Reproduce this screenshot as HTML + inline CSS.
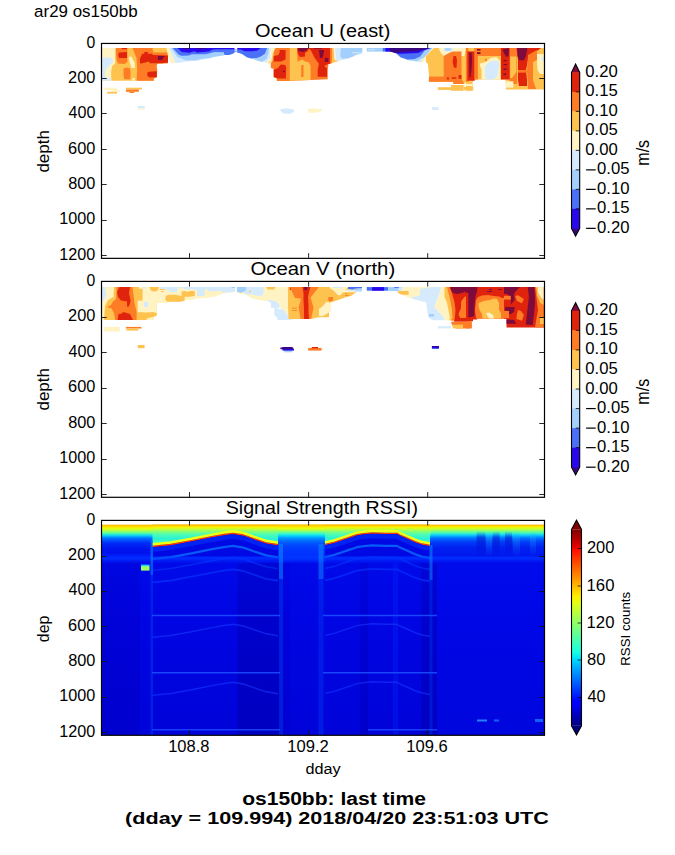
<!DOCTYPE html>
<html><head><meta charset="utf-8"><style>
html,body{margin:0;padding:0;background:#fff;overflow:hidden;}
svg{display:block;}
text{font-family:"Liberation Sans", sans-serif;fill:#000;}
</style></head><body>
<svg width="675" height="855" viewBox="0 0 675 855">
<rect x="0" y="0" width="675" height="855" fill="#fff"/>
<defs><linearGradient id="rtop" gradientUnits="userSpaceOnUse" x1="0" y1="524.6" x2="0" y2="563"><stop offset="0.0000" stop-color="#ffbc00"/><stop offset="0.0495" stop-color="#ffd800"/><stop offset="0.0885" stop-color="#f4f800"/><stop offset="0.1406" stop-color="#c0ff38"/><stop offset="0.1927" stop-color="#84ff74"/><stop offset="0.2448" stop-color="#34f4c4"/><stop offset="0.2969" stop-color="#08c4ff"/><stop offset="0.3359" stop-color="#0084ff"/><stop offset="0.4010" stop-color="#0054ff"/><stop offset="0.4792" stop-color="#002cf8"/><stop offset="0.6094" stop-color="#0016f0"/><stop offset="0.7396" stop-color="#0010ec"/><stop offset="0.8177" stop-color="#0020ff"/><stop offset="0.8698" stop-color="#0030ff"/><stop offset="0.9349" stop-color="#001af4"/><stop offset="1.0000" stop-color="#0010ea"/></linearGradient><linearGradient id="rtopE" gradientUnits="userSpaceOnUse" x1="0" y1="524.6" x2="0" y2="563"><stop offset="0.0000" stop-color="#ffac00"/><stop offset="0.0312" stop-color="#ffd000"/><stop offset="0.0677" stop-color="#f0f800"/><stop offset="0.1146" stop-color="#c4ff34"/><stop offset="0.1667" stop-color="#84ff74"/><stop offset="0.2187" stop-color="#44f8bc"/><stop offset="0.2708" stop-color="#10d0f8"/><stop offset="0.3229" stop-color="#0090ff"/><stop offset="0.3750" stop-color="#0064ff"/><stop offset="0.4531" stop-color="#003cf8"/><stop offset="0.6094" stop-color="#0020f0"/><stop offset="0.8177" stop-color="#0018ee"/><stop offset="0.8698" stop-color="#0034ff"/><stop offset="0.9349" stop-color="#0018f4"/><stop offset="1.0000" stop-color="#0010ea"/></linearGradient><linearGradient id="rtopC" gradientUnits="userSpaceOnUse" x1="0" y1="524.6" x2="0" y2="563"><stop offset="0.0000" stop-color="#ffbc00"/><stop offset="0.0495" stop-color="#ffe000"/><stop offset="0.1016" stop-color="#e8ff10"/><stop offset="0.1536" stop-color="#a8ff50"/><stop offset="0.2057" stop-color="#60ffa0"/><stop offset="0.2578" stop-color="#20f0e0"/><stop offset="0.3099" stop-color="#00c0ff"/><stop offset="0.3620" stop-color="#0090ff"/><stop offset="0.4271" stop-color="#0068ff"/><stop offset="0.5312" stop-color="#0048ff"/><stop offset="0.6615" stop-color="#0038ff"/><stop offset="0.7917" stop-color="#0030ff"/><stop offset="0.8698" stop-color="#0040ff"/><stop offset="0.9479" stop-color="#0020f8"/><stop offset="1.0000" stop-color="#0010ea"/></linearGradient><linearGradient id="rarc" gradientUnits="userSpaceOnUse" x1="0" y1="524.6" x2="0" y2="548"><stop offset="0.0000" stop-color="#ffb400"/><stop offset="0.0598" stop-color="#ffd400"/><stop offset="0.1239" stop-color="#f0f808"/><stop offset="0.2094" stop-color="#bcff40"/><stop offset="0.3162" stop-color="#7cff80"/><stop offset="0.4444" stop-color="#44fcbc"/><stop offset="0.6154" stop-color="#2cf0d4"/><stop offset="0.7436" stop-color="#44fcb4"/><stop offset="1.0000" stop-color="#60ff90"/></linearGradient><linearGradient id="rdeep" gradientUnits="userSpaceOnUse" x1="0" y1="560" x2="0" y2="735"><stop offset="0" stop-color="#0018ff" stop-opacity="0.3"/><stop offset="0.35" stop-color="#0010ff" stop-opacity="0.1"/><stop offset="1" stop-color="#000080" stop-opacity="0.06"/></linearGradient></defs>
<rect x="101.5" y="526.6" width="443.0" height="208.4" fill="#0004e0"/>
<rect x="101.5" y="526.6" width="39.1" height="208.4" fill="#0000d4"/>
<rect x="140.0" y="526.6" width="12.6" height="208.4" fill="#0004e0"/>
<rect x="152.0" y="526.6" width="86.1" height="208.4" fill="#0004e0"/>
<rect x="237.5" y="526.6" width="43.6" height="208.4" fill="#0000c6"/>
<rect x="280.5" y="526.6" width="10.1" height="208.4" fill="#0000d8"/>
<rect x="290.0" y="526.6" width="70.6" height="208.4" fill="#0004e0"/>
<rect x="360.0" y="526.6" width="8.6" height="208.4" fill="#0000d0"/>
<rect x="368.0" y="526.6" width="25.6" height="208.4" fill="#0004e0"/>
<rect x="393.0" y="526.6" width="5.6" height="208.4" fill="#0010ec"/>
<rect x="398.0" y="526.6" width="23.6" height="208.4" fill="#0004e0"/>
<rect x="421.0" y="526.6" width="16.6" height="208.4" fill="#0000c8"/>
<rect x="437.0" y="526.6" width="107.5" height="208.4" fill="#0006e4"/>
<rect x="101.5" y="560.0" width="443.0" height="175.0" fill="url(#rdeep)"/>
<rect x="101.5" y="524.6" width="329.5" height="38.4" fill="url(#rtop)"/>
<rect x="278.0" y="524.6" width="48.0" height="38.4" fill="url(#rtopC)"/>
<rect x="431.0" y="524.6" width="113.5" height="38.4" fill="url(#rtopE)"/>
<defs><linearGradient id="colD" gradientUnits="userSpaceOnUse" x1="0" y1="531" x2="0" y2="557"><stop offset="0" stop-color="#0000c0" stop-opacity="0"/><stop offset="0.25" stop-color="#0000c0" stop-opacity="0.45"/><stop offset="1" stop-color="#0000c0" stop-opacity="0"/></linearGradient><linearGradient id="colL" gradientUnits="userSpaceOnUse" x1="0" y1="531" x2="0" y2="557"><stop offset="0" stop-color="#20b0ff" stop-opacity="0"/><stop offset="0.25" stop-color="#20b0ff" stop-opacity="0.3"/><stop offset="1" stop-color="#20b0ff" stop-opacity="0"/></linearGradient></defs>
<rect x="476.6" y="531.0" width="8.8" height="26.0" fill="url(#colD)"/>
<rect x="492.6" y="531.0" width="7.1" height="26.0" fill="url(#colD)"/>
<rect x="505.0" y="531.0" width="7.0" height="26.0" fill="url(#colD)"/>
<rect x="486.0" y="531.0" width="6.0" height="26.0" fill="url(#colL)"/>
<rect x="513.0" y="531.0" width="7.0" height="26.0" fill="url(#colL)"/>
<rect x="530.0" y="531.0" width="6.0" height="26.0" fill="url(#colL)"/>
<polygon points="152.5,546.3 156.0,546.0 170.7,544.5 191.5,540.7 212.0,536.6 224.0,534.5 233.0,533.3 243.4,535.0 253.7,538.7 266.2,542.8 276.6,544.5 278.0,544.7 278.0,556.5 152.5,556.5" fill="#0008e4"/>
<polygon points="152.5,524.6 152.5,546.3 156.0,546.0 170.7,544.5 191.5,540.7 212.0,536.6 224.0,534.5 233.0,533.3 243.4,535.0 253.7,538.7 266.2,542.8 276.6,544.5 278.0,544.7 278.0,524.6" fill="url(#rarc)"/>
<polyline points="152.5,544.3 156.0,544.0 170.7,542.5 191.5,538.7 212.0,534.6 224.0,532.5 233.0,531.3 243.4,533.0 253.7,536.7 266.2,540.8 276.6,542.5 278.0,542.7" fill="none" stroke="#f4ff10" stroke-width="2.4" stroke-linejoin="round"/>
<polyline points="152.5,546.3 156.0,546.0 170.7,544.5 191.5,540.7 212.0,536.6 224.0,534.5 233.0,533.3 243.4,535.0 253.7,538.7 266.2,542.8 276.6,544.5 278.0,544.7" fill="none" stroke="#ff3800" stroke-width="1.3" stroke-linejoin="round"/>
<polyline points="152.5,549.5 156.0,549.2 170.7,547.7 191.5,543.9 212.0,539.8 224.0,537.7 233.0,536.5 243.4,538.2 253.7,541.9 266.2,546.0 276.6,547.7 278.0,547.9" fill="none" stroke="#0038ff" stroke-width="4.5" stroke-opacity="0.55" stroke-linejoin="round"/>
<polyline points="152.5,558.9 156.0,558.6 170.7,557.1 191.5,553.3 212.0,549.2 224.0,547.1 233.0,545.9 243.4,547.6 253.7,551.3 266.2,555.4 276.6,557.1 278.0,557.3" fill="none" stroke="#0a80ff" stroke-width="2.2" stroke-opacity="0.7" stroke-linejoin="round"/>
<polyline points="152.5,570.3 156.0,570.0 170.7,568.5 191.5,564.7 212.0,560.6 224.0,558.5 233.0,557.3 243.4,559.0 253.7,562.7 266.2,566.8 276.6,568.5 278.0,568.7" fill="none" stroke="#0848ff" stroke-width="1.6" stroke-opacity="0.45" stroke-linejoin="round"/>
<polyline points="152.5,582.3 156.0,582.0 170.7,580.5 191.5,576.7 212.0,572.6 224.0,570.5 233.0,569.3 243.4,571.0 253.7,574.7 266.2,578.8 276.6,580.5 278.0,580.7" fill="none" stroke="#0838ff" stroke-width="1.8" stroke-opacity="0.6" stroke-linejoin="round"/>
<polyline points="152.5,637.3 156.0,637.0 170.7,635.5 191.5,631.7 212.0,627.6 224.0,625.5 233.0,624.3 243.4,626.0 253.7,629.7 266.2,633.8 276.6,635.5 278.0,635.7" fill="none" stroke="#1838ff" stroke-width="1.4" stroke-opacity="0.6" stroke-linejoin="round"/>
<polyline points="152.5,695.3 156.0,695.0 170.7,693.5 191.5,689.7 212.0,685.6 224.0,683.5 233.0,682.3 243.4,684.0 253.7,687.7 266.2,691.8 276.6,693.5 278.0,693.7" fill="none" stroke="#1838ff" stroke-width="1.4" stroke-opacity="0.6" stroke-linejoin="round"/>
<polyline points="152.0,615.5 280.0,615.5" fill="none" stroke="#1c4cff" stroke-width="1.5" stroke-opacity="0.9"/>
<polyline points="152.0,672.8 280.0,672.8" fill="none" stroke="#1c4cff" stroke-width="1.5" stroke-opacity="0.9"/>
<polyline points="152.0,729.7 280.0,729.7" fill="none" stroke="#1c4cff" stroke-width="1.5" stroke-opacity="0.8"/>
<polygon points="325.0,544.4 334.0,542.4 349.0,537.3 357.0,534.6 364.0,533.6 372.0,532.8 386.0,533.3 397.0,533.3 400.0,535.0 407.0,538.0 415.0,541.7 422.0,544.0 430.0,545.4 430.0,556.5 325.0,556.5" fill="#0008e4"/>
<polygon points="325.0,524.6 325.0,544.4 334.0,542.4 349.0,537.3 357.0,534.6 364.0,533.6 372.0,532.8 386.0,533.3 397.0,533.3 400.0,535.0 407.0,538.0 415.0,541.7 422.0,544.0 430.0,545.4 430.0,524.6" fill="url(#rarc)"/>
<polyline points="325.0,542.4 334.0,540.4 349.0,535.3 357.0,532.6 364.0,531.6 372.0,530.8 386.0,531.3 397.0,531.3 400.0,533.0 407.0,536.0 415.0,539.7 422.0,542.0 430.0,543.4" fill="none" stroke="#f4ff10" stroke-width="2.4" stroke-linejoin="round"/>
<polyline points="325.0,544.4 334.0,542.4 349.0,537.3 357.0,534.6 364.0,533.6 372.0,532.8 386.0,533.3 397.0,533.3 400.0,535.0 407.0,538.0 415.0,541.7 422.0,544.0 430.0,545.4" fill="none" stroke="#ff3800" stroke-width="1.3" stroke-linejoin="round"/>
<polyline points="325.0,547.6 334.0,545.6 349.0,540.5 357.0,537.8 364.0,536.8 372.0,536.0 386.0,536.5 397.0,536.5 400.0,538.2 407.0,541.2 415.0,544.9 422.0,547.2 430.0,548.6" fill="none" stroke="#0038ff" stroke-width="4.5" stroke-opacity="0.55" stroke-linejoin="round"/>
<polyline points="325.0,557.0 334.0,555.0 349.0,549.9 357.0,547.2 364.0,546.2 372.0,545.4 386.0,545.9 397.0,545.9 400.0,547.6 407.0,550.6 415.0,554.3 422.0,556.6 430.0,558.0" fill="none" stroke="#0a80ff" stroke-width="2.2" stroke-opacity="0.7" stroke-linejoin="round"/>
<polyline points="325.0,568.4 334.0,566.4 349.0,561.3 357.0,558.6 364.0,557.6 372.0,556.8 386.0,557.3 397.0,557.3 400.0,559.0 407.0,562.0 415.0,565.7 422.0,568.0 430.0,569.4" fill="none" stroke="#0848ff" stroke-width="1.6" stroke-opacity="0.45" stroke-linejoin="round"/>
<polyline points="325.0,580.4 334.0,578.4 349.0,573.3 357.0,570.6 364.0,569.6 372.0,568.8 386.0,569.3 397.0,569.3 400.0,571.0 407.0,574.0 415.0,577.7 422.0,580.0 430.0,581.4" fill="none" stroke="#0838ff" stroke-width="1.8" stroke-opacity="0.6" stroke-linejoin="round"/>
<polyline points="325.0,635.4 334.0,633.4 349.0,628.3 357.0,625.6 364.0,624.6 372.0,623.8 386.0,624.3 397.0,624.3 400.0,626.0 407.0,629.0 415.0,632.7 422.0,635.0 430.0,636.4" fill="none" stroke="#1838ff" stroke-width="1.4" stroke-opacity="0.6" stroke-linejoin="round"/>
<polyline points="325.0,693.4 334.0,691.4 349.0,686.3 357.0,683.6 364.0,682.6 372.0,681.8 386.0,682.3 397.0,682.3 400.0,684.0 407.0,687.0 415.0,690.7 422.0,693.0 430.0,694.4" fill="none" stroke="#1838ff" stroke-width="1.4" stroke-opacity="0.6" stroke-linejoin="round"/>
<polyline points="323.0,615.5 437.0,615.5" fill="none" stroke="#1c4cff" stroke-width="1.5" stroke-opacity="0.9"/>
<polyline points="323.0,672.8 437.0,672.8" fill="none" stroke="#1c4cff" stroke-width="1.5" stroke-opacity="0.9"/>
<polyline points="368.0,729.7 437.0,729.7" fill="none" stroke="#1c4cff" stroke-width="1.5" stroke-opacity="0.8"/>
<rect x="101.5" y="556.5" width="443.0" height="4.0" fill="#0028ff" fill-opacity="0.4"/>
<rect x="279.0" y="544.0" width="4.0" height="191.0" fill="#0060ff" fill-opacity="0.3"/>
<rect x="279.0" y="544.0" width="4.0" height="35.0" fill="#10a8ff" fill-opacity="0.35"/>
<rect x="150.5" y="540.0" width="2.5" height="195.0" fill="#0060ff" fill-opacity="0.3"/>
<rect x="150.5" y="540.0" width="2.5" height="35.0" fill="#10a8ff" fill-opacity="0.35"/>
<rect x="318.5" y="544.0" width="5.0" height="191.0" fill="#0060ff" fill-opacity="0.25"/>
<rect x="318.5" y="544.0" width="5.0" height="35.0" fill="#10a8ff" fill-opacity="0.35"/>
<rect x="429.5" y="545.0" width="3.0" height="190.0" fill="#0060ff" fill-opacity="0.25"/>
<rect x="429.5" y="545.0" width="3.0" height="35.0" fill="#10a8ff" fill-opacity="0.35"/>
<rect x="141.0" y="566.0" width="8.5" height="4.6" fill="#a0ff60"/>
<rect x="141.0" y="564.6" width="8.5" height="1.6" fill="#20d0f0"/>
<rect x="477.0" y="719.5" width="10.0" height="2.0" fill="#2080ff"/>
<rect x="494.0" y="719.5" width="5.0" height="2.0" fill="#1060ff"/>
<rect x="535.0" y="719.0" width="8.0" height="3.0" fill="#1060ff"/>
<polygon points="101.5,48.0 168.0,48.0 168.0,63.3 157.4,63.5 156.5,66.0 157.2,70.0 156.8,77.5 153.8,78.5 153.8,80.7 101.5,80.7" fill="#fec24f"/>
<polygon points="101.5,48.0 115.2,48.0 115.2,63.2 112.2,66.1 111.1,72.0 111.4,80.7 101.5,80.7" fill="#fff3c4"/>
<polygon points="101.5,57.9 108.7,57.3 112.6,59.0 112.9,62.6 109.9,65.0 106.9,67.9 105.1,70.9 105.1,76.2 106.9,78.0 111.1,78.3 111.1,80.7 101.5,80.7" fill="#d5ebfd"/>
<polygon points="116.0,48.0 127.4,48.0 127.4,62.0 124.5,64.0 118.0,63.5 116.5,60.0 116.0,52.0" fill="#fd7c25"/>
<polygon points="118.8,52.5 127.0,52.0 127.0,57.9 119.0,57.9 118.2,55.8" fill="#e0230d"/>
<polygon points="121.7,48.0 127.0,48.0 127.0,49.2 121.7,49.2" fill="#e0230d"/>
<polygon points="128.9,56.7 131.6,56.7 134.8,63.0 134.8,67.9 131.5,67.9 129.5,62.0" fill="#fff3c4"/>
<polygon points="123.5,68.5 126.5,67.5 129.5,68.0 130.6,72.0 130.3,79.2 124.2,79.2 123.5,74.0" fill="#fd7c25"/>
<polygon points="132.4,48.0 168.0,48.0 168.0,63.3 157.4,63.5 156.5,66.0 157.2,70.0 156.8,77.5 153.8,78.5 153.8,80.7 136.6,80.7 137.1,69.7 136.6,57.9" fill="#fd7c25"/>
<polygon points="152.6,48.0 168.0,48.0 169.0,52.5 153.5,52.5 152.6,50.0" fill="#fec24f"/>
<polygon points="142.3,53.7 144.3,53.7 144.3,51.9 147.9,51.9 147.9,53.7 152.0,53.7 153.0,55.0 168.0,55.5 168.0,62.5 162.0,63.2 150.0,63.2 149.0,61.5 140.2,63.8 139.8,59.6 140.2,58.0" fill="#e0230d"/>
<polygon points="158.0,56.0 165.0,56.0 163.0,58.0 162.0,59.9 158.0,59.9" fill="#7d0b3c"/>
<polygon points="148.0,72.0 152.0,71.5 156.8,71.2 156.8,77.0 150.0,77.4 147.3,76.0 147.3,73.0" fill="#e0230d"/>
<polygon points="132.4,78.0 134.8,78.0 134.8,80.7 132.4,80.7" fill="#fff3c4"/>
<polygon points="166.5,48.0 169.5,48.0 176.0,62.8 171.0,63.2 168.0,56.0" fill="#fff3c4"/>
<polygon points="169.2,48.0 270.8,48.0 270.2,57.9 266.6,62.6 262.0,62.0 257.1,60.5 253.0,59.0 247.0,57.3 241.7,53.7 237.5,52.5 234.6,52.5 232.8,53.7 228.6,54.9 224.5,54.9 221.5,55.8 215.0,57.0 213.1,57.6 209.0,58.7 200.7,59.9 196.6,60.8 185.9,61.4 181.7,62.6 177.0,62.9 175.7,62.8" fill="#d5ebfd"/>
<polygon points="171.0,48.0 269.0,48.0 268.4,53.7 266.6,59.0 261.9,61.7 257.1,60.5 253.0,59.0 247.0,57.3 241.7,53.7 237.5,52.5 234.6,52.5 232.8,53.7 228.6,54.9 224.5,54.9 221.5,55.8 215.0,56.5 213.1,57.0 209.0,58.1 200.7,59.0 196.6,60.2 185.9,60.5 182.9,59.3 180.0,57.9 177.5,57.0" fill="#a2cffc"/>
<polygon points="172.8,48.0 266.9,48.0 266.6,49.6 264.9,53.7 260.7,56.4 256.6,57.9 253.0,57.9 251.7,58.4 247.0,57.3 241.7,53.7 237.5,52.5 234.6,52.5 232.8,53.7 228.6,54.9 224.5,54.9 223.9,52.2 215.0,51.9 212.6,52.5 209.0,53.4 204.9,54.3 191.8,54.3 188.9,55.5 181.1,55.8 178.2,54.3" fill="#4a70f7"/>
<polygon points="177.6,48.0 234.6,48.0 234.6,49.3 217.0,49.3 212.6,49.6 209.0,51.6 197.1,52.5 194.2,51.3 189.4,52.8 181.7,51.9" fill="#2a08ec"/>
<polygon points="237.2,48.0 260.7,48.0 257.0,50.7 253.0,51.2 244.6,51.3 241.0,49.5 237.2,49.5" fill="#2a08ec"/>
<polygon points="182.3,48.0 189.4,48.0 189.4,48.8 182.3,48.8" fill="#3a0782"/>
<polygon points="196.0,48.0 206.0,48.0 206.0,48.8 196.0,48.8" fill="#3a0782"/>
<polygon points="234.6,48.0 237.2,48.0 237.2,53.2 234.6,53.2" fill="#ffffff"/>
<polygon points="234.2,49.6 237.6,49.6 237.6,50.3 234.2,50.3" fill="#4a70f7"/>
<polygon points="234.2,51.4 237.6,51.4 237.6,52.1 234.2,52.1" fill="#4a70f7"/>
<polygon points="270.8,48.0 275.5,48.0 273.5,53.7 272.0,61.0 269.6,63.2 266.6,62.6 270.2,57.9" fill="#fff3c4"/>
<polygon points="274.9,48.0 277.3,48.0 273.7,51.9 273.1,59.6 269.6,63.2 267.5,63.2 271.4,60.8 272.6,53.7" fill="#fec24f"/>
<polygon points="276.0,48.0 331.0,48.0 331.0,63.8 328.5,64.0 327.7,70.0 327.7,79.2 310.6,80.1 297.0,80.6 291.0,81.0 276.7,81.0 276.7,78.3 273.7,77.4 273.7,69.1 270.8,67.9 270.8,63.2 273.1,59.6 273.7,51.9" fill="#fd7c25"/>
<polygon points="279.7,49.9 285.6,49.9 285.6,59.6 280.9,61.4 273.7,61.4 273.7,56.1 278.5,54.9 279.7,51.9" fill="#e0230d"/>
<polygon points="280.9,64.4 285.0,65.0 286.2,67.3 285.9,78.6 277.9,78.6 273.7,76.8 273.7,69.7 277.9,67.9" fill="#e0230d"/>
<polygon points="282.9,70.9 285.0,70.9 285.0,72.1 282.9,72.1" fill="#7d0b3c"/>
<polygon points="289.7,48.0 296.9,48.0 297.5,61.4 302.3,59.6 305.0,61.5 308.9,62.2 310.6,66.0 310.6,80.1 289.7,80.8" fill="#fec24f"/>
<polygon points="301.2,65.0 303.5,65.0 303.5,77.0 301.2,77.0" fill="#fd7c25"/>
<polygon points="297.5,48.0 308.5,48.0 308.0,51.0 305.0,53.0 305.0,56.5 300.0,57.0 298.5,55.0 297.5,52.0" fill="#e0230d"/>
<polygon points="297.9,48.0 308.2,48.0 306.5,50.5 303.0,51.9 299.0,51.0 297.9,50.0" fill="#7d0b3c"/>
<polygon points="308.0,48.0 330.2,48.0 330.2,63.8 328.9,63.8 324.2,66.1 327.1,68.5 327.1,76.8 317.7,76.8 317.7,69.7 318.9,63.8 314.7,57.9 311.1,50.7" fill="#e0230d"/>
<polygon points="318.9,49.9 324.2,49.9 323.5,54.0 322.5,57.9 320.0,57.9 319.5,54.0" fill="#7d0b3c"/>
<polygon points="324.8,57.9 328.3,57.9 328.3,62.0 324.8,62.0" fill="#7d0b3c"/>
<polygon points="314.0,48.0 322.0,48.0 322.0,48.7 314.0,48.7" fill="#7d0b3c"/>
<polygon points="330.2,48.0 332.6,48.0 332.6,63.0 330.2,63.6" fill="#fd7c25"/>
<polygon points="332.6,48.0 333.7,48.0 334.5,58.0 338.0,61.4 333.7,62.4 331.5,62.5 332.6,58.0" fill="#fec24f"/>
<polygon points="333.7,48.0 335.2,48.0 335.5,58.0 337.0,61.0 334.5,60.0" fill="#fff3c4"/>
<polygon points="334.9,48.0 362.2,48.0 362.2,53.5 355.7,55.5 352.7,57.0 348.0,58.8 342.0,60.0 337.9,61.2 336.0,60.0 335.5,55.0" fill="#d5ebfd"/>
<polygon points="340.9,48.0 362.2,48.0 362.2,52.9 355.7,54.7 352.7,56.4 348.0,58.2 342.0,58.8 340.3,55.9" fill="#a2cffc"/>
<polygon points="352.0,52.3 361.6,52.3 361.6,53.3 352.0,53.3" fill="#d5ebfd"/>
<polygon points="366.8,48.0 383.7,48.0 383.7,51.6 366.8,51.6" fill="#a2cffc"/>
<polygon points="368.0,49.3 375.0,49.3 375.0,50.2 368.0,50.2" fill="#d5ebfd"/>
<polygon points="385.0,48.0 434.0,48.0 426.0,56.0 422.0,62.6 416.6,61.8 407.7,60.2 400.6,57.5 391.7,51.6 385.0,51.6" fill="#d5ebfd"/>
<polygon points="430.0,48.0 434.5,48.0 427.0,57.0 423.0,62.6 420.5,62.6 425.0,55.0" fill="#fff3c4"/>
<polygon points="385.0,48.0 432.6,48.0 423.7,58.0 421.9,58.5 416.6,61.3 407.7,60.0 400.6,57.3 396.1,52.9 391.7,51.6 385.0,51.6" fill="#a2cffc"/>
<polygon points="382.8,48.0 431.5,48.0 425.0,50.2 423.7,52.0 420.1,56.4 414.8,59.1 407.7,59.6 400.6,57.3 396.1,52.9 391.7,51.6 382.8,51.6" fill="#4a70f7"/>
<polygon points="385.4,48.0 430.4,48.0 425.0,50.0 423.7,50.2 418.3,52.9 402.3,53.8 397.9,53.8 391.7,51.6 385.4,51.6" fill="#2a08ec"/>
<polygon points="389.9,48.0 428.0,48.0 425.0,49.3 418.3,51.1 402.3,52.0 395.2,52.9 389.9,51.6" fill="#3a0782"/>
<polygon points="434.0,48.0 544.0,48.0 544.0,89.5 506.0,89.5 505.5,79.6 473.3,79.6 473.3,81.9 466.0,81.9 464.4,84.0 453.3,84.0 453.3,81.8 428.9,81.8 429.0,76.0 428.0,64.0 426.0,62.0 426.0,56.0" fill="#fec24f"/>
<polygon points="439.3,48.0 466.0,48.0 464.4,55.9 444.0,55.9 441.0,53.0 439.3,50.0" fill="#fff3c4"/>
<polygon points="443.7,48.0 452.6,48.0 452.6,51.4 443.7,51.4" fill="#d5ebfd"/>
<polygon points="444.8,48.3 451.0,48.3 450.5,50.5 445.5,50.5" fill="#a2cffc"/>
<polygon points="443.7,56.0 449.0,53.0 452.6,51.4 461.5,51.4 461.5,78.8 464.4,84.0 453.3,84.0 453.3,81.8 444.0,80.0 443.7,70.0" fill="#fd7c25"/>
<polygon points="428.9,76.6 453.3,76.6 453.3,81.8 428.9,81.8" fill="#fd7c25"/>
<polygon points="453.5,56.0 456.0,56.0 457.0,60.0 456.5,67.7 454.0,67.7 452.6,62.0" fill="#e0230d"/>
<polygon points="446.7,77.5 449.0,77.5 449.0,79.5 446.7,79.5" fill="#e0230d"/>
<polygon points="451.8,77.3 456.3,77.3 456.3,78.8 451.8,78.8" fill="#e0230d"/>
<polygon points="458.5,75.1 461.5,75.1 461.5,78.8 458.5,78.8" fill="#e0230d"/>
<polygon points="465.9,48.0 468.4,48.0 468.4,81.9 465.9,81.9" fill="#fd7c25"/>
<polygon points="467.4,51.4 474.9,51.4 474.9,80.7 467.4,80.7" fill="#e0230d"/>
<polygon points="469.2,52.5 471.5,52.5 472.0,60.0 471.5,70.0 470.5,77.0 469.5,77.0" fill="#7d0b3c"/>
<polygon points="474.3,48.0 501.6,48.0 501.6,55.9 477.9,55.9 477.9,79.6 474.3,79.6" fill="#fd7c25"/>
<polygon points="477.0,49.0 480.5,49.0 480.5,50.5 477.0,50.5" fill="#7d0b3c"/>
<polygon points="477.0,52.2 480.5,52.2 480.5,54.0 477.0,54.0" fill="#7d0b3c"/>
<polygon points="480.0,63.5 486.0,62.0 490.5,58.0 496.5,57.0 500.0,61.0 500.4,79.6 481.5,79.6 481.5,70.0 480.0,66.0" fill="#fff3c4"/>
<polygon points="485.0,66.0 490.0,61.5 497.5,60.6 499.5,64.0 498.5,69.0 497.5,76.0 494.0,79.6 485.5,79.6 485.0,72.0" fill="#d5ebfd"/>
<polygon points="484.8,58.8 487.0,58.8 487.0,60.5 484.8,60.5" fill="#fd7c25"/>
<polygon points="501.0,48.0 510.2,48.0 510.2,79.5 501.0,79.6" fill="#e0230d"/>
<polygon points="502.5,49.5 509.0,48.0 508.5,56.5 506.0,56.5 504.0,53.0" fill="#7d0b3c"/>
<polygon points="503.5,60.0 506.5,60.0 506.5,61.2 503.5,61.2" fill="#7d0b3c"/>
<polygon points="503.5,64.0 507.0,64.0 507.0,65.2 503.5,65.2" fill="#7d0b3c"/>
<polygon points="503.5,68.5 506.5,68.5 506.5,70.0 503.5,70.0" fill="#7d0b3c"/>
<polygon points="503.5,73.5 506.0,73.5 506.0,75.0 503.5,75.0" fill="#7d0b3c"/>
<polygon points="509.6,48.0 517.1,48.0 517.1,84.0 509.6,84.0" fill="#fd7c25"/>
<polygon points="510.2,56.4 516.4,56.4 516.4,72.0 512.0,78.0 510.2,78.0" fill="#fec24f"/>
<polygon points="516.5,48.0 528.0,48.0 528.0,60.0 526.0,70.0 527.0,80.0 527.0,86.0 519.0,86.0 518.0,80.0 518.0,60.0" fill="#e0230d"/>
<polygon points="518.0,70.0 527.0,70.0 527.0,72.6 518.0,72.6" fill="#fd7c25"/>
<polygon points="517.1,48.0 527.6,48.0 526.0,56.0 524.0,60.2 519.0,60.2 517.5,56.0" fill="#7d0b3c"/>
<polygon points="527.6,48.0 541.0,48.0 528.0,58.0" fill="#e0230d"/>
<polygon points="528.0,55.0 537.0,50.0 537.0,60.0 533.0,62.0 533.0,80.0 536.0,89.0 528.0,89.0 527.0,70.0" fill="#fd7c25"/>
<polygon points="537.0,54.0 543.8,54.0 543.8,73.9 540.0,73.9 537.5,70.0 537.0,60.0" fill="#fff3c4"/>
<polygon points="541.5,57.0 543.8,57.0 543.8,60.8 541.5,60.8" fill="#d5ebfd"/>
<polygon points="506.0,81.3 513.3,81.3 513.3,87.6 506.0,87.6" fill="#fff3c4"/>
<polygon points="437.8,87.2 452.0,87.2 452.0,89.9 437.8,89.9" fill="#fec24f"/>
<polygon points="451.0,85.0 463.6,85.0 463.6,90.8 451.0,90.8" fill="#fec24f"/>
<polygon points="463.6,86.8 473.3,86.8 473.3,90.3 463.6,90.3" fill="#fec24f"/>
<polygon points="464.0,85.0 472.5,85.0 472.5,87.0 464.0,87.0" fill="#fff3c4"/>
<polygon points="466.0,81.9 472.5,81.9 472.5,90.8 466.0,90.8" fill="#fec24f"/>
<polygon points="466.0,84.0 472.0,84.0 472.0,86.0 466.0,86.0" fill="#fff3c4"/>
<polygon points="104.0,87.7 117.0,87.7 117.0,90.1 104.0,90.1" fill="#fff3c4"/>
<polygon points="111.7,90.1 120.0,90.1 120.0,91.8 111.7,91.8" fill="#fff3c4"/>
<polygon points="107.0,91.8 117.0,91.8 117.0,93.6 107.0,93.6" fill="#fec24f"/>
<polygon points="125.9,87.7 141.9,87.7 141.9,89.5 125.9,89.5" fill="#fec24f"/>
<polygon points="125.9,89.5 138.9,89.5 138.9,91.8 125.9,91.8" fill="#fd7c25"/>
<polygon points="129.4,91.8 134.2,91.8 134.2,93.0 129.4,93.0" fill="#fd7c25"/>
<polygon points="137.7,106.0 144.8,106.0 144.8,108.4 137.7,108.4" fill="#d5ebfd"/>
<polygon points="137.7,108.4 144.8,108.4 144.8,109.6 137.7,109.6" fill="#fff3c4"/>
<polygon points="279.8,109.5 286.0,108.3 294.0,109.5 294.0,112.0 290.0,113.7 284.0,113.7 281.0,111.5" fill="#d5ebfd"/>
<polygon points="307.8,109.5 313.0,108.3 322.0,109.5 322.0,111.0 316.0,112.8 308.0,112.8" fill="#fff3c4"/>
<polygon points="432.0,107.2 438.7,107.2 438.7,109.9 432.0,109.9" fill="#d5ebfd"/>
<polygon points="101.5,287.0 179.0,287.0 179.0,302.0 167.0,302.0 165.0,303.0 157.0,303.0 156.8,313.0 154.0,316.0 154.0,320.0 101.5,320.0" fill="#fec24f"/>
<polygon points="101.5,287.0 114.0,287.0 113.5,297.0 108.0,300.0 105.0,306.0 104.0,320.0 101.5,320.0" fill="#fff3c4"/>
<polygon points="101.5,287.0 105.0,287.0 106.5,295.0 104.0,300.0 101.5,302.0" fill="#d5ebfd"/>
<polygon points="116.4,287.0 132.4,287.0 133.5,295.0 134.5,303.0 136.6,312.0 136.6,320.0 115.2,320.0 114.0,313.0 111.5,308.5 107.0,307.0 111.0,305.0 113.0,301.5 116.0,299.0 116.4,292.0" fill="#fd7c25"/>
<polygon points="119.5,287.0 130.0,287.0 129.0,293.0 130.6,301.0 129.0,306.5 127.0,306.5 127.0,301.5 121.0,300.5 118.0,297.0 117.0,292.0" fill="#e0230d"/>
<polygon points="117.6,320.0 118.5,314.0 122.0,313.5 123.0,312.0 125.0,312.5 130.0,314.0 133.0,320.0" fill="#e0230d"/>
<polygon points="139.0,287.0 179.0,287.0 179.0,302.0 167.0,302.0 165.0,303.0 157.0,303.0 156.8,313.0 154.0,316.0 154.0,320.0 139.0,320.0" fill="#fff3c4"/>
<polygon points="137.7,300.6 141.0,300.6 141.0,312.4 137.7,312.4" fill="#fff3c4"/>
<polygon points="149.0,287.0 159.0,287.0 158.0,290.5 154.0,291.7 151.0,290.5" fill="#fec24f"/>
<polygon points="159.7,288.7 165.1,288.7 165.1,290.0 159.7,290.0" fill="#fec24f"/>
<polygon points="161.0,291.1 164.0,291.1 164.0,292.0 161.0,292.0" fill="#fec24f"/>
<polygon points="139.0,288.7 142.6,288.7 142.6,300.6 139.0,300.6" fill="#fec24f"/>
<polygon points="166.0,296.0 168.0,294.7 179.0,294.7 179.0,301.8 167.0,301.8 165.1,299.0" fill="#fec24f"/>
<polygon points="160.0,287.0 179.0,287.0 179.0,289.0 177.0,292.0 171.0,292.0 168.0,290.0 160.0,288.5" fill="#d5ebfd"/>
<polygon points="142.6,287.0 146.0,287.0 146.0,288.7 142.6,288.7" fill="#d5ebfd"/>
<polygon points="144.0,301.8 147.9,301.8 147.9,307.1 144.0,307.1" fill="#d5ebfd"/>
<polygon points="139.0,312.0 146.0,312.5 153.0,312.0 156.8,313.0 156.8,315.5 153.5,317.0 148.0,318.0 146.0,320.0 139.0,320.0" fill="#fec24f"/>
<polygon points="177.0,287.0 217.0,287.0 217.0,296.3 213.0,296.7 207.0,297.9 200.0,298.2 196.0,298.8 192.0,300.0 184.7,300.0 181.0,301.0 177.0,301.8" fill="#fff3c4"/>
<polygon points="177.0,295.3 184.7,296.0 184.7,300.5 181.0,301.8 177.0,301.8" fill="#fec24f"/>
<polygon points="177.0,287.0 217.0,287.0 217.0,291.3 208.5,291.3 206.5,288.5 204.5,291.0 204.3,295.9 197.1,295.9 197.1,290.5 193.0,289.5 184.0,289.3 183.0,287.5 178.5,287.5 178.0,289.5 177.0,290.0" fill="#d5ebfd"/>
<polygon points="181.5,291.5 185.0,291.0 188.0,292.0 189.5,291.0 194.8,291.0 194.8,296.0 189.0,296.7 185.0,296.7 181.5,295.5" fill="#fec24f"/>
<polygon points="215.0,287.0 255.0,287.0 255.0,298.8 251.7,298.2 248.2,295.9 245.8,294.7 236.9,292.9 235.1,292.0 234.0,292.0 225.0,293.2 222.0,293.8 219.0,295.0 215.0,295.9" fill="#fff3c4"/>
<polygon points="215.0,287.0 235.1,287.0 235.1,291.7 226.0,292.6 222.1,293.0 222.1,291.1 215.0,291.1" fill="#d5ebfd"/>
<polygon points="235.1,287.0 236.9,287.0 236.9,292.5 235.1,292.5" fill="#ffffff"/>
<polygon points="242.9,287.0 255.0,287.0 255.0,293.5 248.0,294.7 245.8,294.3 243.0,292.0" fill="#d5ebfd"/>
<polygon points="236.9,287.0 246.1,287.0 246.1,290.5 243.0,292.0 240.5,293.0 239.0,292.5 236.9,291.5" fill="#a2cffc"/>
<polygon points="231.5,287.0 235.1,287.0 235.1,288.0 231.5,288.0" fill="#a2cffc"/>
<polygon points="249.0,291.1 251.0,291.1 251.0,292.0 249.0,292.0" fill="#fec24f"/>
<polygon points="253.0,287.0 293.0,287.0 293.0,319.9 290.9,319.9 286.0,313.0 283.5,309.5 279.7,307.7 279.7,305.0 277.0,301.5 271.0,300.0 266.0,301.0 258.3,300.0 253.0,298.8" fill="#fff3c4"/>
<polygon points="253.0,287.0 263.7,287.0 263.5,293.0 262.0,295.9 255.0,295.5 253.0,294.5" fill="#d5ebfd"/>
<polygon points="266.0,300.5 271.0,300.0 277.0,301.5 279.7,305.0 279.7,307.7 276.0,308.5 283.5,309.5 286.0,313.0 290.9,319.9 277.3,319.9 277.3,317.5 274.3,315.4 274.3,308.0 271.0,307.7 270.8,302.5" fill="#d5ebfd"/>
<polygon points="266.0,287.0 275.5,287.0 274.0,289.6 267.5,289.6" fill="#fec24f"/>
<polygon points="288.0,287.0 293.0,287.0 293.0,319.0 288.5,319.0 288.0,305.0" fill="#fec24f"/>
<polygon points="289.7,287.0 293.0,287.0 293.0,289.9 289.7,289.9" fill="#e0230d"/>
<polygon points="291.0,287.0 331.0,287.0 331.0,301.8 329.0,302.0 329.0,317.2 318.3,317.2 311.0,319.0 291.0,319.0" fill="#fec24f"/>
<polygon points="289.8,287.0 318.9,287.0 310.6,297.6 313.5,307.7 311.1,319.0 300.6,319.0 298.7,307.4 301.0,298.5 295.0,298.0" fill="#fd7c25"/>
<polygon points="302.3,287.0 310.5,287.0 309.0,292.0 308.0,297.0 308.5,305.0 308.5,312.0 309.0,319.0 304.0,319.0 304.0,310.0 303.5,300.0 303.5,293.0" fill="#e0230d"/>
<polygon points="304.0,287.0 307.6,287.0 307.0,289.9 304.5,289.9" fill="#7d0b3c"/>
<polygon points="319.0,309.0 323.0,306.0 326.0,302.0 331.0,302.0 331.0,311.0 328.0,313.0 323.0,316.0 319.0,316.0" fill="#fff3c4"/>
<polygon points="328.3,297.0 331.0,297.0 331.0,300.6 328.3,300.6" fill="#fd7c25"/>
<polygon points="292.0,307.7 297.0,307.7 297.0,308.5 292.0,308.5" fill="#fd7c25"/>
<polygon points="292.0,310.0 297.0,310.0 297.0,310.8 292.0,310.8" fill="#fd7c25"/>
<polygon points="329.0,287.0 357.0,287.0 356.9,292.0 355.1,292.9 350.9,295.9 345.0,297.6 336.7,300.6 329.0,303.0" fill="#fec24f"/>
<polygon points="330.0,287.0 348.0,287.0 343.0,292.5 340.0,295.5 338.0,295.0 333.0,290.0 330.0,288.5" fill="#fff3c4"/>
<polygon points="342.6,290.0 356.9,290.0 356.9,292.3 342.6,292.3" fill="#fff3c4"/>
<polygon points="329.0,297.0 333.1,297.0 333.1,300.6 329.0,301.5" fill="#fd7c25"/>
<polygon points="345.0,292.9 346.8,292.9 346.8,293.8 345.0,293.8" fill="#fd7c25"/>
<polygon points="345.0,295.0 348.6,295.0 348.6,295.9 345.0,295.9" fill="#fd7c25"/>
<polygon points="346.0,289.5 362.0,289.5 362.0,292.0 357.0,292.0 346.0,290.5" fill="#d5ebfd"/>
<polygon points="352.0,288.5 362.0,288.5 362.0,290.5 355.0,290.5" fill="#a2cffc"/>
<polygon points="348.0,287.0 362.0,287.0 362.0,288.2 355.0,288.5 353.0,289.5 348.0,289.0" fill="#4a70f7"/>
<polygon points="333.0,287.0 342.6,287.0 342.6,288.0 333.0,288.0" fill="#d5ebfd"/>
<polygon points="366.9,287.0 369.0,287.0 369.0,290.0 366.9,290.0" fill="#4a70f7"/>
<polygon points="366.8,287.1 388.1,287.1 388.1,290.7 366.8,290.7" fill="#4a70f7"/>
<polygon points="372.1,287.1 384.1,287.1 384.1,290.7 372.1,290.7" fill="#2a08ec"/>
<polygon points="388.1,287.1 398.8,287.1 398.8,291.1 388.1,291.1" fill="#a2cffc"/>
<polygon points="394.3,287.1 403.2,287.1 403.2,288.0 394.3,288.0" fill="#4a70f7"/>
<polygon points="398.8,287.1 409.4,287.1 409.4,292.0 398.8,292.0" fill="#d5ebfd"/>
<polygon points="402.3,287.0 425.0,287.0 425.0,301.8 416.6,300.0 407.7,297.3 397.9,292.4 402.3,290.0" fill="#fff3c4"/>
<polygon points="397.9,291.1 408.6,291.1 408.6,294.7 402.0,294.7 397.9,293.0" fill="#fec24f"/>
<polygon points="410.0,297.5 418.0,296.0 425.0,293.0 425.0,301.8 416.6,300.0" fill="#d5ebfd"/>
<polygon points="420.0,287.0 432.0,287.0 432.0,289.2 420.0,289.2" fill="#fff3c4"/>
<polygon points="420.0,289.0 432.0,287.0 442.0,287.0 440.0,292.0 437.0,300.0 434.5,307.0 440.0,313.0 444.0,317.0 444.5,320.3 432.6,320.3 428.5,317.3 427.4,312.0 426.0,302.0 420.0,301.0" fill="#d5ebfd"/>
<polygon points="428.9,314.0 434.1,314.0 434.1,316.6 428.9,316.6" fill="#a2cffc"/>
<polygon points="441.0,287.0 470.0,287.0 470.0,321.0 444.5,320.3 444.0,317.0 440.0,313.0 434.5,307.0 437.0,300.0 440.0,292.0" fill="#fff3c4"/>
<polygon points="444.5,287.0 470.0,287.0 470.0,321.0 449.0,320.3 450.0,318.0 449.0,313.0 447.0,303.0 444.5,297.0" fill="#fec24f"/>
<polygon points="447.0,287.0 470.0,287.0 470.0,321.0 451.0,320.5 452.5,318.0 452.0,310.0 450.5,301.0 449.0,295.0" fill="#fd7c25"/>
<polygon points="449.5,287.0 470.0,287.0 470.0,321.8 454.0,321.8 455.0,317.0 455.5,310.0 454.5,302.0 452.5,295.0 451.0,290.0" fill="#e0230d"/>
<polygon points="450.4,287.0 470.0,287.0 470.0,317.3 467.4,317.3 467.4,296.0 465.0,291.5 462.0,293.0 457.0,294.0 453.0,293.0 451.0,290.0" fill="#7d0b3c"/>
<polygon points="462.0,300.0 465.0,296.6 467.4,296.6 467.4,318.0 460.0,318.0 458.5,314.0 461.0,308.0 461.0,302.0" fill="#fd7c25"/>
<polygon points="451.0,321.8 470.0,321.8 470.0,328.4 456.0,328.4 452.0,325.0" fill="#fd7c25"/>
<polygon points="452.6,324.7 463.0,324.7 463.0,328.4 452.6,328.4" fill="#fec24f"/>
<polygon points="437.8,326.2 451.0,326.2 451.0,328.4 437.8,328.4" fill="#d5ebfd"/>
<polygon points="466.0,287.0 506.0,287.0 506.0,318.4 477.3,318.4 477.3,319.6 473.0,319.6 473.0,321.3 466.0,321.3" fill="#e0230d"/>
<polygon points="466.0,287.0 477.3,287.0 477.0,292.0 475.5,296.0 474.9,302.0 474.3,310.0 474.3,316.0 470.0,317.2 468.4,317.0 468.4,293.0 466.0,292.5" fill="#7d0b3c"/>
<polygon points="476.0,300.0 478.0,297.0 482.0,295.5 488.0,295.0 494.0,296.0 499.0,296.5 502.0,298.0 506.0,297.5 506.0,318.4 476.0,318.4 475.0,310.0" fill="#fd7c25"/>
<polygon points="478.5,303.0 484.0,301.0 490.0,300.0 494.0,298.5 497.0,299.0 499.0,303.0 499.0,310.0 501.0,313.0 501.0,318.4 482.5,318.4 482.0,314.0 479.5,310.0 478.5,306.0" fill="#fec24f"/>
<polygon points="486.0,313.0 489.0,312.4 493.0,315.0 494.0,318.4 489.0,318.4" fill="#fff3c4"/>
<polygon points="489.0,289.0 492.0,289.0 492.0,290.0 489.0,290.0" fill="#7d0b3c"/>
<polygon points="487.0,291.0 492.0,291.0 492.0,292.0 487.0,292.0" fill="#7d0b3c"/>
<polygon points="498.0,289.0 502.0,289.0 502.0,290.0 498.0,290.0" fill="#7d0b3c"/>
<polygon points="466.0,321.3 471.9,321.3 471.9,328.4 466.0,328.4" fill="#fd7c25"/>
<polygon points="504.0,287.0 544.0,287.0 544.0,327.6 506.5,327.6 506.5,319.0 504.0,318.8" fill="#e0230d"/>
<polygon points="504.0,287.0 520.0,287.0 516.0,291.0 514.0,294.0 514.5,300.0 511.0,304.5 510.5,297.0 507.0,294.0 504.0,294.0" fill="#7d0b3c"/>
<polygon points="505.2,307.0 514.6,307.0 514.0,312.0 511.0,314.0 505.2,313.9" fill="#7d0b3c"/>
<polygon points="506.5,319.5 514.0,320.0 516.4,323.8 506.5,323.8" fill="#7d0b3c"/>
<polygon points="527.6,287.0 534.5,287.0 535.1,302.7 533.9,315.1 532.6,325.0 525.8,324.4 527.6,308.9 528.9,296.4" fill="#7d0b3c"/>
<polygon points="504.0,295.8 510.8,295.8 510.8,299.6 504.0,299.6" fill="#fd7c25"/>
<polygon points="515.2,296.0 518.0,295.2 523.9,299.0 522.0,303.3 517.0,301.0" fill="#fd7c25"/>
<polygon points="518.0,310.1 521.0,311.0 523.9,315.0 522.0,320.7 516.4,319.0 517.0,314.0" fill="#fd7c25"/>
<polygon points="504.0,310.9 509.0,310.9 509.0,318.2 504.0,318.2" fill="#fd7c25"/>
<polygon points="535.0,287.0 536.0,287.0 537.0,296.0 540.0,303.0 543.8,305.2 543.8,327.6 535.0,327.6 536.5,318.0 538.0,310.0" fill="#fd7c25"/>
<polygon points="536.0,287.0 538.0,287.0 538.0,293.0 541.0,298.0 543.8,300.0 543.8,305.2 540.0,303.0 537.0,296.0" fill="#fec24f"/>
<polygon points="538.0,287.0 543.8,287.0 543.8,300.0 541.0,298.0 538.0,293.0" fill="#fff3c4"/>
<polygon points="540.0,318.0 543.8,318.0 543.8,324.0 540.0,324.0" fill="#fec24f"/>
<polygon points="104.1,326.9 119.7,326.9 119.7,331.6 104.1,331.6" fill="#fff3c4"/>
<polygon points="125.9,326.9 141.5,326.9 141.5,328.5 125.9,328.5" fill="#fd7c25"/>
<polygon points="126.4,328.5 138.3,328.5 138.3,330.6 126.4,330.6" fill="#fec24f"/>
<polygon points="137.8,345.0 144.6,345.0 144.6,348.2 137.8,348.2" fill="#fec24f"/>
<polygon points="284.2,350.1 292.2,350.1 292.2,352.3 284.2,352.3" fill="#a2cffc"/>
<polygon points="282.5,349.0 294.0,349.0 294.0,350.6 282.5,350.6" fill="#2a08ec"/>
<polygon points="279.8,348.0 283.0,347.0 292.0,347.0 294.0,348.2 292.0,349.2 281.0,349.2" fill="#3a0782"/>
<polygon points="308.2,347.9 321.6,347.9 321.6,350.6 308.2,350.6" fill="#fd7c25"/>
<polygon points="311.8,347.0 318.0,347.0 318.0,348.3 311.8,348.3" fill="#e0230d"/>
<polygon points="431.9,346.0 439.0,346.0 439.0,348.9 431.9,348.9" fill="#2a08ec"/>
<polygon points="431.9,346.0 439.0,346.0 439.0,346.8 431.9,346.8" fill="#3a0782"/>
<polygon points="431.9,348.2 439.0,348.2 439.0,348.9 431.9,348.9" fill="#4a70f7"/>
<rect x="101.5" y="43.45" width="443.0" height="214.90000000000003" fill="none" stroke="#000" stroke-width="1.2"/>
<line x1="101.5" y1="78.50" x2="106.7" y2="78.50" stroke="#111" stroke-width="0.9"/>
<line x1="544.5" y1="78.50" x2="539.3" y2="78.50" stroke="#111" stroke-width="0.9"/>
<line x1="101.5" y1="113.50" x2="106.7" y2="113.50" stroke="#111" stroke-width="0.9"/>
<line x1="544.5" y1="113.50" x2="539.3" y2="113.50" stroke="#111" stroke-width="0.9"/>
<line x1="101.5" y1="149.50" x2="106.7" y2="149.50" stroke="#111" stroke-width="0.9"/>
<line x1="544.5" y1="149.50" x2="539.3" y2="149.50" stroke="#111" stroke-width="0.9"/>
<line x1="101.5" y1="184.50" x2="106.7" y2="184.50" stroke="#111" stroke-width="0.9"/>
<line x1="544.5" y1="184.50" x2="539.3" y2="184.50" stroke="#111" stroke-width="0.9"/>
<line x1="101.5" y1="220.50" x2="106.7" y2="220.50" stroke="#111" stroke-width="0.9"/>
<line x1="544.5" y1="220.50" x2="539.3" y2="220.50" stroke="#111" stroke-width="0.9"/>
<line x1="101.5" y1="255.50" x2="106.7" y2="255.50" stroke="#111" stroke-width="0.9"/>
<line x1="544.5" y1="255.50" x2="539.3" y2="255.50" stroke="#111" stroke-width="0.9"/>
<line x1="189.5" y1="43.45" x2="189.5" y2="48.650000000000006" stroke="#111" stroke-width="0.9"/>
<line x1="189.5" y1="258.35" x2="189.5" y2="253.15000000000003" stroke="#111" stroke-width="0.9"/>
<line x1="308.6" y1="43.45" x2="308.6" y2="48.650000000000006" stroke="#111" stroke-width="0.9"/>
<line x1="308.6" y1="258.35" x2="308.6" y2="253.15000000000003" stroke="#111" stroke-width="0.9"/>
<line x1="427.7" y1="43.45" x2="427.7" y2="48.650000000000006" stroke="#111" stroke-width="0.9"/>
<line x1="427.7" y1="258.35" x2="427.7" y2="253.15000000000003" stroke="#111" stroke-width="0.9"/>
<text x="86.57" y="47.60" font-size="16.43" textLength="8.78" lengthAdjust="spacingAndGlyphs">0</text>
<text x="68.08" y="82.92" font-size="16.43" textLength="27.33" lengthAdjust="spacingAndGlyphs">200</text>
<text x="68.50" y="118.25" font-size="16.43" textLength="26.90" lengthAdjust="spacingAndGlyphs">400</text>
<text x="68.08" y="153.58" font-size="16.43" textLength="27.33" lengthAdjust="spacingAndGlyphs">600</text>
<text x="68.17" y="188.90" font-size="16.43" textLength="27.25" lengthAdjust="spacingAndGlyphs">800</text>
<text x="59.28" y="224.23" font-size="16.43" textLength="36.06" lengthAdjust="spacingAndGlyphs">1000</text>
<text x="59.28" y="259.55" font-size="16.43" textLength="36.06" lengthAdjust="spacingAndGlyphs">1200</text>
<rect x="101.5" y="281.4" width="443.0" height="215.90000000000003" fill="none" stroke="#000" stroke-width="1.2"/>
<line x1="101.5" y1="317.50" x2="106.7" y2="317.50" stroke="#111" stroke-width="0.9"/>
<line x1="544.5" y1="317.50" x2="539.3" y2="317.50" stroke="#111" stroke-width="0.9"/>
<line x1="101.5" y1="352.50" x2="106.7" y2="352.50" stroke="#111" stroke-width="0.9"/>
<line x1="544.5" y1="352.50" x2="539.3" y2="352.50" stroke="#111" stroke-width="0.9"/>
<line x1="101.5" y1="388.50" x2="106.7" y2="388.50" stroke="#111" stroke-width="0.9"/>
<line x1="544.5" y1="388.50" x2="539.3" y2="388.50" stroke="#111" stroke-width="0.9"/>
<line x1="101.5" y1="423.50" x2="106.7" y2="423.50" stroke="#111" stroke-width="0.9"/>
<line x1="544.5" y1="423.50" x2="539.3" y2="423.50" stroke="#111" stroke-width="0.9"/>
<line x1="101.5" y1="459.50" x2="106.7" y2="459.50" stroke="#111" stroke-width="0.9"/>
<line x1="544.5" y1="459.50" x2="539.3" y2="459.50" stroke="#111" stroke-width="0.9"/>
<line x1="101.5" y1="494.50" x2="106.7" y2="494.50" stroke="#111" stroke-width="0.9"/>
<line x1="544.5" y1="494.50" x2="539.3" y2="494.50" stroke="#111" stroke-width="0.9"/>
<line x1="189.5" y1="281.4" x2="189.5" y2="286.59999999999997" stroke="#111" stroke-width="0.9"/>
<line x1="189.5" y1="497.3" x2="189.5" y2="492.1" stroke="#111" stroke-width="0.9"/>
<line x1="308.6" y1="281.4" x2="308.6" y2="286.59999999999997" stroke="#111" stroke-width="0.9"/>
<line x1="308.6" y1="497.3" x2="308.6" y2="492.1" stroke="#111" stroke-width="0.9"/>
<line x1="427.7" y1="281.4" x2="427.7" y2="286.59999999999997" stroke="#111" stroke-width="0.9"/>
<line x1="427.7" y1="497.3" x2="427.7" y2="492.1" stroke="#111" stroke-width="0.9"/>
<text x="86.57" y="285.55" font-size="16.43" textLength="8.78" lengthAdjust="spacingAndGlyphs">0</text>
<text x="68.08" y="321.04" font-size="16.43" textLength="27.33" lengthAdjust="spacingAndGlyphs">200</text>
<text x="68.50" y="356.53" font-size="16.43" textLength="26.90" lengthAdjust="spacingAndGlyphs">400</text>
<text x="68.08" y="392.03" font-size="16.43" textLength="27.33" lengthAdjust="spacingAndGlyphs">600</text>
<text x="68.17" y="427.52" font-size="16.43" textLength="27.25" lengthAdjust="spacingAndGlyphs">800</text>
<text x="59.28" y="463.01" font-size="16.43" textLength="36.06" lengthAdjust="spacingAndGlyphs">1000</text>
<text x="59.28" y="498.50" font-size="16.43" textLength="36.06" lengthAdjust="spacingAndGlyphs">1200</text>
<rect x="101.5" y="520.4" width="443.0" height="214.89999999999998" fill="none" stroke="#000" stroke-width="1.2"/>
<line x1="101.5" y1="556.50" x2="106.7" y2="556.50" stroke="#111" stroke-width="0.9"/>
<line x1="544.5" y1="556.50" x2="539.3" y2="556.50" stroke="#111" stroke-width="0.9"/>
<line x1="101.5" y1="591.50" x2="106.7" y2="591.50" stroke="#111" stroke-width="0.9"/>
<line x1="544.5" y1="591.50" x2="539.3" y2="591.50" stroke="#111" stroke-width="0.9"/>
<line x1="101.5" y1="626.50" x2="106.7" y2="626.50" stroke="#111" stroke-width="0.9"/>
<line x1="544.5" y1="626.50" x2="539.3" y2="626.50" stroke="#111" stroke-width="0.9"/>
<line x1="101.5" y1="661.50" x2="106.7" y2="661.50" stroke="#111" stroke-width="0.9"/>
<line x1="544.5" y1="661.50" x2="539.3" y2="661.50" stroke="#111" stroke-width="0.9"/>
<line x1="101.5" y1="697.50" x2="106.7" y2="697.50" stroke="#111" stroke-width="0.9"/>
<line x1="544.5" y1="697.50" x2="539.3" y2="697.50" stroke="#111" stroke-width="0.9"/>
<line x1="101.5" y1="732.50" x2="106.7" y2="732.50" stroke="#111" stroke-width="0.9"/>
<line x1="544.5" y1="732.50" x2="539.3" y2="732.50" stroke="#111" stroke-width="0.9"/>
<line x1="189.5" y1="520.4" x2="189.5" y2="525.6" stroke="#111" stroke-width="0.9"/>
<line x1="189.5" y1="735.3" x2="189.5" y2="730.0999999999999" stroke="#111" stroke-width="0.9"/>
<line x1="308.6" y1="520.4" x2="308.6" y2="525.6" stroke="#111" stroke-width="0.9"/>
<line x1="308.6" y1="735.3" x2="308.6" y2="730.0999999999999" stroke="#111" stroke-width="0.9"/>
<line x1="427.7" y1="520.4" x2="427.7" y2="525.6" stroke="#111" stroke-width="0.9"/>
<line x1="427.7" y1="735.3" x2="427.7" y2="730.0999999999999" stroke="#111" stroke-width="0.9"/>
<text x="86.57" y="524.55" font-size="16.43" textLength="8.78" lengthAdjust="spacingAndGlyphs">0</text>
<text x="68.08" y="559.87" font-size="16.43" textLength="27.33" lengthAdjust="spacingAndGlyphs">200</text>
<text x="68.50" y="595.20" font-size="16.43" textLength="26.90" lengthAdjust="spacingAndGlyphs">400</text>
<text x="68.08" y="630.52" font-size="16.43" textLength="27.33" lengthAdjust="spacingAndGlyphs">600</text>
<text x="68.17" y="665.85" font-size="16.43" textLength="27.25" lengthAdjust="spacingAndGlyphs">800</text>
<text x="59.28" y="701.17" font-size="16.43" textLength="36.06" lengthAdjust="spacingAndGlyphs">1000</text>
<text x="59.28" y="736.50" font-size="16.43" textLength="36.06" lengthAdjust="spacingAndGlyphs">1200</text>
<text x="34.14" y="16.90" font-size="15.71" textLength="103.46" lengthAdjust="spacingAndGlyphs">ar29 os150bb</text>
<text x="255.10" y="36.71" font-size="18.73" textLength="135.20" lengthAdjust="spacingAndGlyphs">Ocean U (east)</text>
<text x="250.48" y="274.66" font-size="18.73" textLength="144.73" lengthAdjust="spacingAndGlyphs">Ocean V (north)</text>
<text x="225.72" y="513.66" font-size="18.73" textLength="192.22" lengthAdjust="spacingAndGlyphs">Signal Strength RSSI)</text>
<text x="48.90" y="172.58" font-size="15.59" textLength="42.53" lengthAdjust="spacingAndGlyphs" transform="rotate(-90 48.90 172.58)">depth</text>
<text x="48.90" y="410.53" font-size="15.59" textLength="42.53" lengthAdjust="spacingAndGlyphs" transform="rotate(-90 48.90 410.53)">depth</text>
<text x="48.90" y="642.13" font-size="15.59" textLength="26.42" lengthAdjust="spacingAndGlyphs" transform="rotate(-90 48.90 642.13)">dep</text>
<text x="168.16" y="752.20" font-size="16.86" textLength="41.34" lengthAdjust="spacingAndGlyphs">108.8</text>
<text x="287.26" y="752.20" font-size="16.86" textLength="41.52" lengthAdjust="spacingAndGlyphs">109.2</text>
<text x="406.36" y="752.20" font-size="16.86" textLength="41.43" lengthAdjust="spacingAndGlyphs">109.6</text>
<text x="305.45" y="773.50" font-size="15.03" textLength="35.21" lengthAdjust="spacingAndGlyphs">dday</text>
<text x="242.16" y="804.60" font-size="18.12" textLength="183.69" lengthAdjust="spacingAndGlyphs" font-weight="bold">os150bb: last time</text>
<text x="125.12" y="824.30" font-size="17.10" textLength="423.75" lengthAdjust="spacingAndGlyphs" font-weight="bold">(dday = 109.994) 2018/04/20 23:51:03 UTC</text>
<polygon points="571.5,72.7 575.6,63.9 579.7,72.7" fill="#7d0b3c"/>
<polygon points="571.5,228.04999999999998 575.6,236.0 579.7,228.04999999999998" fill="#3a0782"/>
<rect x="571.5" y="72.40" width="8.200000000000045" height="19.79" fill="#e0230d"/>
<rect x="571.5" y="91.89" width="8.200000000000045" height="19.79" fill="#fd7c25"/>
<rect x="571.5" y="111.39" width="8.200000000000045" height="19.79" fill="#fec24f"/>
<rect x="571.5" y="130.88" width="8.200000000000045" height="19.79" fill="#fff3c4"/>
<rect x="571.5" y="150.38" width="8.200000000000045" height="19.79" fill="#d5ebfd"/>
<rect x="571.5" y="169.87" width="8.200000000000045" height="19.79" fill="#a2cffc"/>
<rect x="571.5" y="189.36" width="8.200000000000045" height="19.79" fill="#4a70f7"/>
<rect x="571.5" y="208.86" width="8.200000000000045" height="19.79" fill="#2a08ec"/>
<polygon points="571.5,72.4 575.6,63.9 579.7,72.4 579.7,228.35 575.6,236.0 571.5,228.35" fill="none" stroke="#000" stroke-width="1.1"/>
<text x="585.33" y="76.95" font-size="16.14" textLength="32.46" lengthAdjust="spacingAndGlyphs">0.20</text>
<line x1="579.7" y1="91.89" x2="575.7" y2="91.89" stroke="#000" stroke-width="0.8"/>
<text x="585.33" y="96.44" font-size="16.14" textLength="32.46" lengthAdjust="spacingAndGlyphs">0.15</text>
<line x1="579.7" y1="111.39" x2="575.7" y2="111.39" stroke="#000" stroke-width="0.8"/>
<text x="585.33" y="115.94" font-size="16.14" textLength="32.46" lengthAdjust="spacingAndGlyphs">0.10</text>
<line x1="579.7" y1="130.88" x2="575.7" y2="130.88" stroke="#000" stroke-width="0.8"/>
<text x="585.33" y="135.43" font-size="16.14" textLength="32.46" lengthAdjust="spacingAndGlyphs">0.05</text>
<line x1="579.7" y1="150.38" x2="575.7" y2="150.38" stroke="#000" stroke-width="0.8"/>
<text x="585.33" y="154.93" font-size="16.14" textLength="32.46" lengthAdjust="spacingAndGlyphs">0.00</text>
<line x1="579.7" y1="169.87" x2="575.7" y2="169.87" stroke="#000" stroke-width="0.8"/>
<text x="597.03" y="174.42" font-size="16.14" textLength="32.46" lengthAdjust="spacingAndGlyphs">0.05</text>
<rect x="586.1" y="169.27" width="9.6" height="1.2" fill="#000"/>
<line x1="579.7" y1="189.36" x2="575.7" y2="189.36" stroke="#000" stroke-width="0.8"/>
<text x="597.03" y="193.91" font-size="16.14" textLength="32.46" lengthAdjust="spacingAndGlyphs">0.10</text>
<rect x="586.1" y="188.76" width="9.6" height="1.2" fill="#000"/>
<line x1="579.7" y1="208.86" x2="575.7" y2="208.86" stroke="#000" stroke-width="0.8"/>
<text x="597.03" y="213.41" font-size="16.14" textLength="32.46" lengthAdjust="spacingAndGlyphs">0.15</text>
<rect x="586.1" y="208.26" width="9.6" height="1.2" fill="#000"/>
<text x="597.03" y="232.90" font-size="16.14" textLength="32.46" lengthAdjust="spacingAndGlyphs">0.20</text>
<rect x="586.1" y="227.75" width="9.6" height="1.2" fill="#000"/>
<polygon points="571.5,311.15000000000003 575.6,302.7 579.7,311.15000000000003" fill="#7d0b3c"/>
<polygon points="571.5,466.9 575.6,474.9 579.7,466.9" fill="#3a0782"/>
<rect x="571.5" y="310.85" width="8.200000000000045" height="19.84" fill="#e0230d"/>
<rect x="571.5" y="330.39" width="8.200000000000045" height="19.84" fill="#fd7c25"/>
<rect x="571.5" y="349.94" width="8.200000000000045" height="19.84" fill="#fec24f"/>
<rect x="571.5" y="369.48" width="8.200000000000045" height="19.84" fill="#fff3c4"/>
<rect x="571.5" y="389.02" width="8.200000000000045" height="19.84" fill="#d5ebfd"/>
<rect x="571.5" y="408.57" width="8.200000000000045" height="19.84" fill="#a2cffc"/>
<rect x="571.5" y="428.11" width="8.200000000000045" height="19.84" fill="#4a70f7"/>
<rect x="571.5" y="447.66" width="8.200000000000045" height="19.84" fill="#2a08ec"/>
<polygon points="571.5,310.85 575.6,302.7 579.7,310.85 579.7,467.2 575.6,474.9 571.5,467.2" fill="none" stroke="#000" stroke-width="1.1"/>
<text x="585.33" y="315.40" font-size="16.14" textLength="32.46" lengthAdjust="spacingAndGlyphs">0.20</text>
<line x1="579.7" y1="330.39" x2="575.7" y2="330.39" stroke="#000" stroke-width="0.8"/>
<text x="585.33" y="334.94" font-size="16.14" textLength="32.46" lengthAdjust="spacingAndGlyphs">0.15</text>
<line x1="579.7" y1="349.94" x2="575.7" y2="349.94" stroke="#000" stroke-width="0.8"/>
<text x="585.33" y="354.49" font-size="16.14" textLength="32.46" lengthAdjust="spacingAndGlyphs">0.10</text>
<line x1="579.7" y1="369.48" x2="575.7" y2="369.48" stroke="#000" stroke-width="0.8"/>
<text x="585.33" y="374.03" font-size="16.14" textLength="32.46" lengthAdjust="spacingAndGlyphs">0.05</text>
<line x1="579.7" y1="389.02" x2="575.7" y2="389.02" stroke="#000" stroke-width="0.8"/>
<text x="585.33" y="393.57" font-size="16.14" textLength="32.46" lengthAdjust="spacingAndGlyphs">0.00</text>
<line x1="579.7" y1="408.57" x2="575.7" y2="408.57" stroke="#000" stroke-width="0.8"/>
<text x="597.03" y="413.12" font-size="16.14" textLength="32.46" lengthAdjust="spacingAndGlyphs">0.05</text>
<rect x="586.1" y="407.97" width="9.6" height="1.2" fill="#000"/>
<line x1="579.7" y1="428.11" x2="575.7" y2="428.11" stroke="#000" stroke-width="0.8"/>
<text x="597.03" y="432.66" font-size="16.14" textLength="32.46" lengthAdjust="spacingAndGlyphs">0.10</text>
<rect x="586.1" y="427.51" width="9.6" height="1.2" fill="#000"/>
<line x1="579.7" y1="447.66" x2="575.7" y2="447.66" stroke="#000" stroke-width="0.8"/>
<text x="597.03" y="452.21" font-size="16.14" textLength="32.46" lengthAdjust="spacingAndGlyphs">0.15</text>
<rect x="586.1" y="447.06" width="9.6" height="1.2" fill="#000"/>
<text x="597.03" y="471.75" font-size="16.14" textLength="32.46" lengthAdjust="spacingAndGlyphs">0.20</text>
<rect x="586.1" y="466.60" width="9.6" height="1.2" fill="#000"/>
<text x="649.30" y="165.75" font-size="18.70" textLength="25.92" lengthAdjust="spacingAndGlyphs" transform="rotate(-90 649.30 165.75)">m/s</text>
<text x="649.30" y="404.70" font-size="18.70" textLength="25.92" lengthAdjust="spacingAndGlyphs" transform="rotate(-90 649.30 404.70)">m/s</text>
<defs><linearGradient id="jet" x1="0" y1="1" x2="0" y2="0"><stop offset="0.000" stop-color="#000080"/><stop offset="0.060" stop-color="#0000c4"/><stop offset="0.110" stop-color="#0000ff"/><stop offset="0.125" stop-color="#0000ff"/><stop offset="0.200" stop-color="#004cff"/><stop offset="0.300" stop-color="#00b0ff"/><stop offset="0.340" stop-color="#00dcfe"/><stop offset="0.375" stop-color="#16ffe1"/><stop offset="0.450" stop-color="#53ffa4"/><stop offset="0.500" stop-color="#7dff7a"/><stop offset="0.550" stop-color="#a4ff53"/><stop offset="0.625" stop-color="#e4ff13"/><stop offset="0.660" stop-color="#feed00"/><stop offset="0.750" stop-color="#ff9400"/><stop offset="0.850" stop-color="#ff3800"/><stop offset="0.890" stop-color="#ff1300"/><stop offset="0.910" stop-color="#e80000"/><stop offset="0.950" stop-color="#b60000"/><stop offset="1.000" stop-color="#800000"/></linearGradient></defs>
<polygon points="571.5,529.4 576.5,520.2 581.5,529.4" fill="#800000"/>
<polygon points="571.5,725.8 576.5,734.8 581.5,725.8" fill="#000080"/>
<rect x="571.5" y="529.4" width="10.0" height="196.39999999999998" fill="url(#jet)"/>
<polygon points="571.5,529.4 576.5,520.2 581.5,529.4 581.5,725.8 576.5,734.8 571.5,725.8" fill="none" stroke="#000" stroke-width="1.1"/>
<line x1="581.5" y1="548.5" x2="577.5" y2="548.5" stroke="#000" stroke-width="0.7"/>
<text x="586.98" y="553.20" font-size="16.86" textLength="27.44" lengthAdjust="spacingAndGlyphs">200</text>
<line x1="581.5" y1="586" x2="577.5" y2="586" stroke="#000" stroke-width="0.7"/>
<text x="586.55" y="590.70" font-size="16.86" textLength="27.88" lengthAdjust="spacingAndGlyphs">160</text>
<line x1="581.5" y1="623" x2="577.5" y2="623" stroke="#000" stroke-width="0.7"/>
<text x="586.55" y="627.70" font-size="16.86" textLength="27.88" lengthAdjust="spacingAndGlyphs">120</text>
<line x1="581.5" y1="660" x2="577.5" y2="660" stroke="#000" stroke-width="0.7"/>
<text x="587.05" y="664.70" font-size="16.86" textLength="18.45" lengthAdjust="spacingAndGlyphs">80</text>
<line x1="581.5" y1="697.6" x2="577.5" y2="697.6" stroke="#000" stroke-width="0.7"/>
<text x="587.39" y="702.30" font-size="16.86" textLength="18.10" lengthAdjust="spacingAndGlyphs">40</text>
<text x="630.40" y="665.76" font-size="13.19" textLength="73.91" lengthAdjust="spacingAndGlyphs" transform="rotate(-90 630.40 665.76)">RSSI counts</text>
</svg></body></html>
